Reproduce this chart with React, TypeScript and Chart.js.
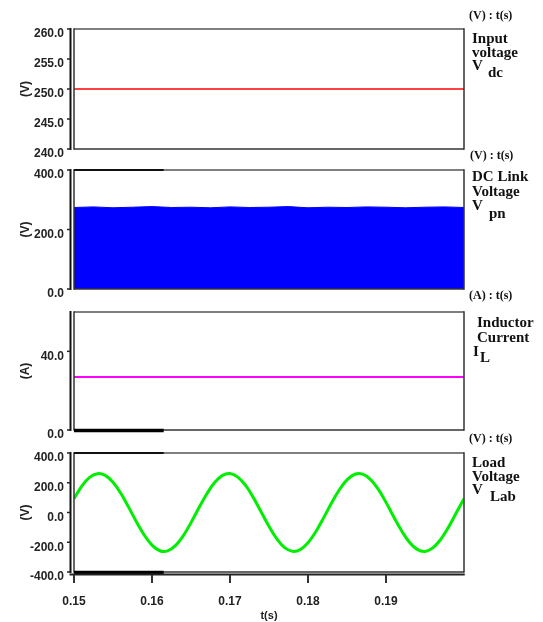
import React, { useEffect, useRef } from 'react';
import { Chart, registerables } from 'chart.js';
Chart.register(...registerables);

const timeMin = 0.15;
const timeMax = 0.2;
const timeTicks = [0.15, 0.16, 0.17, 0.18, 0.19];

const inputTimes = [0.15, 0.2];
const inputVoltage = [250, 250];
const inputTicks = [240, 245, 250, 255, 260];

const dcTimes = [0.15, 0.1525, 0.155, 0.1575, 0.16, 0.1625, 0.165, 0.1675, 0.17, 0.1725, 0.175, 0.1775, 0.18, 0.1825, 0.185, 0.1875, 0.19, 0.1925, 0.195, 0.1975, 0.2];
const dcLinkVoltage = [274, 276, 273, 275, 277, 274, 275, 273, 276, 274, 275, 277, 273, 275, 274, 276, 275, 273, 275, 276, 274];
const dcTicks = [0, 200, 400];

const currentTimes = [0.15, 0.2];
const inductorCurrent = [27, 27];
const currentTicks = [0, 40];

const loadTimes = [
  0.15, 0.151, 0.152, 0.153, 0.154, 0.155, 0.156, 0.157, 0.158, 0.159,
  0.16, 0.161, 0.162, 0.163, 0.164, 0.165, 0.166, 0.167, 0.168, 0.169,
  0.17, 0.171, 0.172, 0.173, 0.174, 0.175, 0.176, 0.177, 0.178, 0.179,
  0.18, 0.181, 0.182, 0.183, 0.184, 0.185, 0.186, 0.187, 0.188, 0.189,
  0.19, 0.191, 0.192, 0.193, 0.194, 0.195, 0.196, 0.197, 0.198, 0.199, 0.2,
];
const loadVoltage = [
  93, 177, 236, 261, 250, 204, 129, 36, -62, -151,
  -219, -257, -258, -223, -157, -68, 30, 123, 200, 248,
  262, 238, 182, 100, 3, -93, -177, -236, -261, -250,
  -204, -129, -36, 62, 151, 219, 257, 258, 223, 157,
  68, -30, -123, -200, -248, -262, -238, -182, -100, -3, 93,
];
const loadTicks = [-400, -200, 0, 200, 400];

const darkTraceEnd = 0.1615;

const sans = '"Liberation Sans", Arial, sans-serif';
const serif = '"Liberation Serif", "Times New Roman", serif';

type Spec = {
  top: number;
  height: number;
  times: number[];
  values: number[];
  color: string;
  width: number;
  fill?: boolean;
  tension?: number;
  min: number;
  max: number;
  ticks: number[];
  unit: string;
  showX?: boolean;
  darkTop?: boolean;
  darkBottom?: boolean;
};

function framePlugin(spec: Spec) {
  return {
    id: 'frame',
    afterDraw(chart: any) {
      const { ctx, chartArea: a } = chart;
      const xs = chart.scales.x;
      const ys = chart.scales.y;
      const seg = (x1: number, y1: number, x2: number, y2: number, color: string, w: number) => {
        ctx.beginPath();
        ctx.strokeStyle = color;
        ctx.lineWidth = w;
        ctx.moveTo(x1, y1);
        ctx.lineTo(x2, y2);
        ctx.stroke();
      };
      ctx.save();
      seg(a.left, a.top, a.right, a.top, '#555', 1.5);
      seg(a.right, a.top - 0.75, a.right, a.bottom + 0.75, '#333', 1.5);
      seg(a.left, a.bottom, a.right, a.bottom, '#333', 1.5);
      seg(a.left, a.top - 0.75, a.left, a.bottom + 0.75, '#333', 1.5);
      seg(a.left - 3.5, a.top - 1, a.left - 3.5, a.bottom + 1, '#111', 2);
      ys.ticks.forEach((t: any) => {
        const p = ys.getPixelForValue(t.value);
        seg(a.left - 7, p, a.left - 3.5, p, '#222', 1.5);
      });
      const xEnd = xs.getPixelForValue(darkTraceEnd);
      if (spec.darkTop) seg(a.left, a.top, xEnd, a.top, '#111', 2);
      if (spec.darkBottom) seg(a.left, a.bottom + 0.5, xEnd, a.bottom + 0.5, '#000', 3.5);
      if (spec.showX) {
        seg(a.left - 4.5, a.bottom + 2.5, a.right + 0.75, a.bottom + 2.5, '#222', 2);
        xs.ticks.forEach((t: any) => {
          const p = xs.getPixelForValue(t.value);
          seg(p, a.bottom + 3, p, a.bottom + 11, '#333', 2);
        });
      }
      ctx.restore();
    },
  };
}

function Panel({ spec }: { spec: Spec }) {
  const ref = useRef<HTMLCanvasElement>(null);
  const canvasH = spec.showX ? spec.height + 60 : spec.height + 20;
  useEffect(() => {
    const canvas = ref.current!;
    const tickFont = { family: sans, size: 12, weight: 'bold' as const };
    const chart = new Chart(canvas, {
      type: 'line',
      data: {
        datasets: [
          {
            data: spec.times.map((t, i) => ({ x: t, y: spec.values[i] })),
            borderColor: spec.color,
            backgroundColor: spec.color,
            borderWidth: spec.width,
            pointRadius: 0,
            fill: spec.fill ? 'origin' : false,
            tension: spec.tension ?? 0,
          },
        ],
      },
      options: {
        responsive: false,
        maintainAspectRatio: false,
        animation: false,
        layout: { padding: { left: 0, right: 6, top: 10, bottom: spec.showX ? 0 : 10 } },
        plugins: { legend: { display: false }, tooltip: { enabled: false } },
        scales: {
          x: {
            type: 'linear',
            min: timeMin,
            max: timeMax,
            display: !!spec.showX,
            grid: { display: false, drawTicks: false },
            border: { display: false },
            afterBuildTicks: (s: any) => {
              s.ticks = timeTicks.map((v) => ({ value: v }));
            },
            afterFit: (s: any) => {
              if (spec.showX) s.height = 50;
              s.paddingLeft = 0;
              s.paddingRight = 0;
            },
            ticks: {
              padding: 22,
              font: tickFont,
              color: '#222',
              maxRotation: 0,
              autoSkip: false,
              callback: (v: any) => Number(v).toFixed(2),
            },
            title: {
              display: true,
              text: 't(s)',
              font: { family: sans, size: 11, weight: 'bold' },
              color: '#222',
              padding: { top: 0, bottom: -1 },
            },
          },
          y: {
            type: 'linear',
            min: spec.min,
            max: spec.max,
            grid: { display: false, drawTicks: false },
            border: { display: false },
            afterBuildTicks: (s: any) => {
              s.ticks = spec.ticks.map((v) => ({ value: v }));
            },
            afterFit: (s: any) => {
              s.width = 74;
              s.paddingTop = 0;
              s.paddingBottom = 0;
            },
            ticks: {
              padding: 10,
              labelOffset: 5,
              font: tickFont,
              color: '#222',
              callback: (v: any) => Number(v).toFixed(1),
            },
            title: {
              display: true,
              text: spec.unit,
              font: { family: sans, size: 12, weight: 'bold' },
              color: '#222',
              padding: { top: 18, bottom: 0 },
            },
          },
        },
      },
      plugins: [framePlugin(spec)],
    } as any);
    return () => chart.destroy();
  }, []);
  return (
    <canvas
      ref={ref}
      width={470}
      height={canvasH}
      style={{ position: 'absolute', left: 0, top: spec.top - 10, width: 470, height: canvasH }}
    />
  );
}

const specs: Spec[] = [
  { top: 29, height: 120, times: inputTimes, values: inputVoltage, color: '#ff0000', width: 1.5, min: 240, max: 260, ticks: inputTicks, unit: '(V)' },
  { top: 170, height: 119, times: dcTimes, values: dcLinkVoltage, color: '#0000ff', width: 1, fill: true, min: 0, max: 400, ticks: dcTicks, unit: '(V)', darkTop: true },
  { top: 312, height: 118, times: currentTimes, values: inductorCurrent, color: '#ff00ff', width: 2, min: 0, max: 60, ticks: currentTicks, unit: '(A)', darkBottom: true },
  { top: 453, height: 119, times: loadTimes, values: loadVoltage, color: '#00ee00', width: 3, tension: 0.4, min: -400, max: 400, ticks: loadTicks, unit: '(V)', showX: true, darkTop: true, darkBottom: true },
];

const txt = (left: number, center: number, text: string, size = 15) => (
  <div
    key={`${left}-${center}-${text}`}
    style={{
      position: 'absolute',
      left,
      top: center - 8,
      height: 16,
      lineHeight: '16px',
      font: `bold ${size}px ${serif}`,
      color: '#111',
      whiteSpace: 'nowrap',
    }}
  >
    {text}
  </div>
);

export default function App() {
  return (
    <div style={{ position: 'absolute', left: 0, top: 0, width: 543, height: 622, background: '#fff', overflow: 'hidden' }}>
      {specs.map((s, i) => (
        <Panel key={i} spec={s} />
      ))}
      {txt(469, 16, '(V) : t(s)', 12)}
      {txt(472, 38, 'Input')}
      {txt(472, 52, 'voltage')}
      {txt(472, 65, 'V')}
      {txt(488, 72, 'dc')}

      {txt(470, 156, '(V) : t(s)', 12)}
      {txt(472, 176, 'DC Link')}
      {txt(472, 191, 'Voltage')}
      {txt(472, 205, 'V')}
      {txt(489, 213, 'pn')}

      {txt(469, 296, '(A) : t(s)', 12)}
      {txt(477, 322, 'Inductor')}
      {txt(477, 337, 'Current')}
      {txt(473, 351, 'I')}
      {txt(480, 357, 'L')}

      {txt(469, 439, '(V) : t(s)', 12)}
      {txt(472, 462, 'Load')}
      {txt(472, 476, 'Voltage')}
      {txt(472, 489, 'V')}
      {txt(490, 496, 'Lab')}
    </div>
  );
}
